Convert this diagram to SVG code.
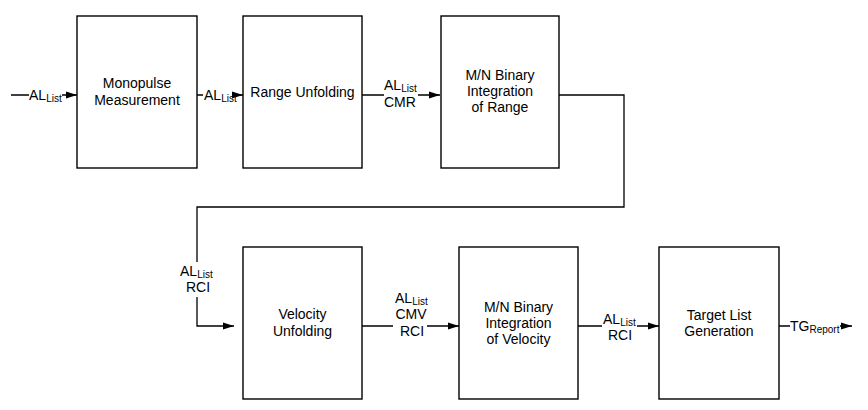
<svg xmlns="http://www.w3.org/2000/svg" width="868" height="410" viewBox="0 0 868 410">
<defs>
<marker id="arr" markerUnits="userSpaceOnUse" markerWidth="12" markerHeight="8" refX="11" refY="4" orient="auto">
<path d="M0,0.5 L11,4 L0,7.5 z" fill="#000"/>
</marker>
<style>
.box{fill:#fff;stroke:#000;stroke-width:1.4}
.con{fill:none;stroke:#000;stroke-width:1.3;marker-end:url(#arr)}
text{font-family:"Liberation Sans",Arial,sans-serif;font-size:14px;fill:#000}
.c{text-anchor:middle}
.sub{font-size:10px}
</style>
</defs>
<rect width="868" height="410" fill="#fff"/>
<g id="connectors">
<path class="con" d="M11,95 H29 M62,95 H77"/>
<path class="con" d="M197,95 H203 M236,95 H243"/>
<path class="con" d="M362,95 H384 M418,95 H440"/>
<path class="con" d="M559,95 H624 V207 H197 V262 M197,297 V326 H234"/>
<path class="con" d="M362,326 H393 M427,326 H459"/>
<path class="con" d="M578,326 H602 M637,326 H659"/>
<path class="con" d="M779,326 H790 M840,326 H852"/>
</g>
<g id="n-monopulse">
<rect class="box" x="77" y="16" width="120" height="152"/>
<text class="c" x="137" y="88">Monopulse</text>
<text class="c" x="137" y="105">Measurement</text>
</g>
<g id="n-range-unfolding">
<rect class="box" x="243" y="16" width="119" height="152"/>
<text class="c" x="302.5" y="97">Range Unfolding</text>
</g>
<g id="n-mn-range">
<rect class="box" x="441" y="16" width="118" height="152"/>
<text class="c" x="500" y="80">M/N Binary</text>
<text class="c" x="500" y="96">Integration</text>
<text class="c" x="500" y="112">of Range</text>
</g>
<g id="n-velocity-unfolding">
<rect class="box" x="243" y="247" width="119" height="152"/>
<text class="c" x="302.5" y="319">Velocity</text>
<text class="c" x="302.5" y="336">Unfolding</text>
</g>
<g id="n-mn-velocity">
<rect class="box" x="459" y="247" width="119" height="152"/>
<text class="c" x="518.5" y="312">M/N Binary</text>
<text class="c" x="518.5" y="328">Integration</text>
<text class="c" x="518.5" y="344">of Velocity</text>
</g>
<g id="n-target-list">
<rect class="box" x="659" y="247" width="120" height="152"/>
<text class="c" x="719" y="320">Target List</text>
<text class="c" x="719" y="336">Generation</text>
</g>
<g id="labels">
<text x="29" y="100">AL<tspan class="sub" dy="2">List</tspan></text>
<text x="204" y="100">AL<tspan class="sub" dy="2">List</tspan></text>
<text x="384" y="90">AL<tspan class="sub" dy="2">List</tspan></text>
<text x="384" y="107">CMR</text>
<text x="180" y="276">AL<tspan class="sub" dy="2">List</tspan></text>
<text x="186" y="292">RCI</text>
<text x="395" y="303">AL<tspan class="sub" dy="2">List</tspan></text>
<text class="c" x="411" y="319">CMV</text>
<text class="c" x="412" y="336">RCI</text>
<text x="603" y="324">AL<tspan class="sub" dy="2">List</tspan></text>
<text class="c" x="620" y="340">RCI</text>
<text x="790" y="331">TG<tspan class="sub" dy="2">Report</tspan></text>
</g>
</svg>
